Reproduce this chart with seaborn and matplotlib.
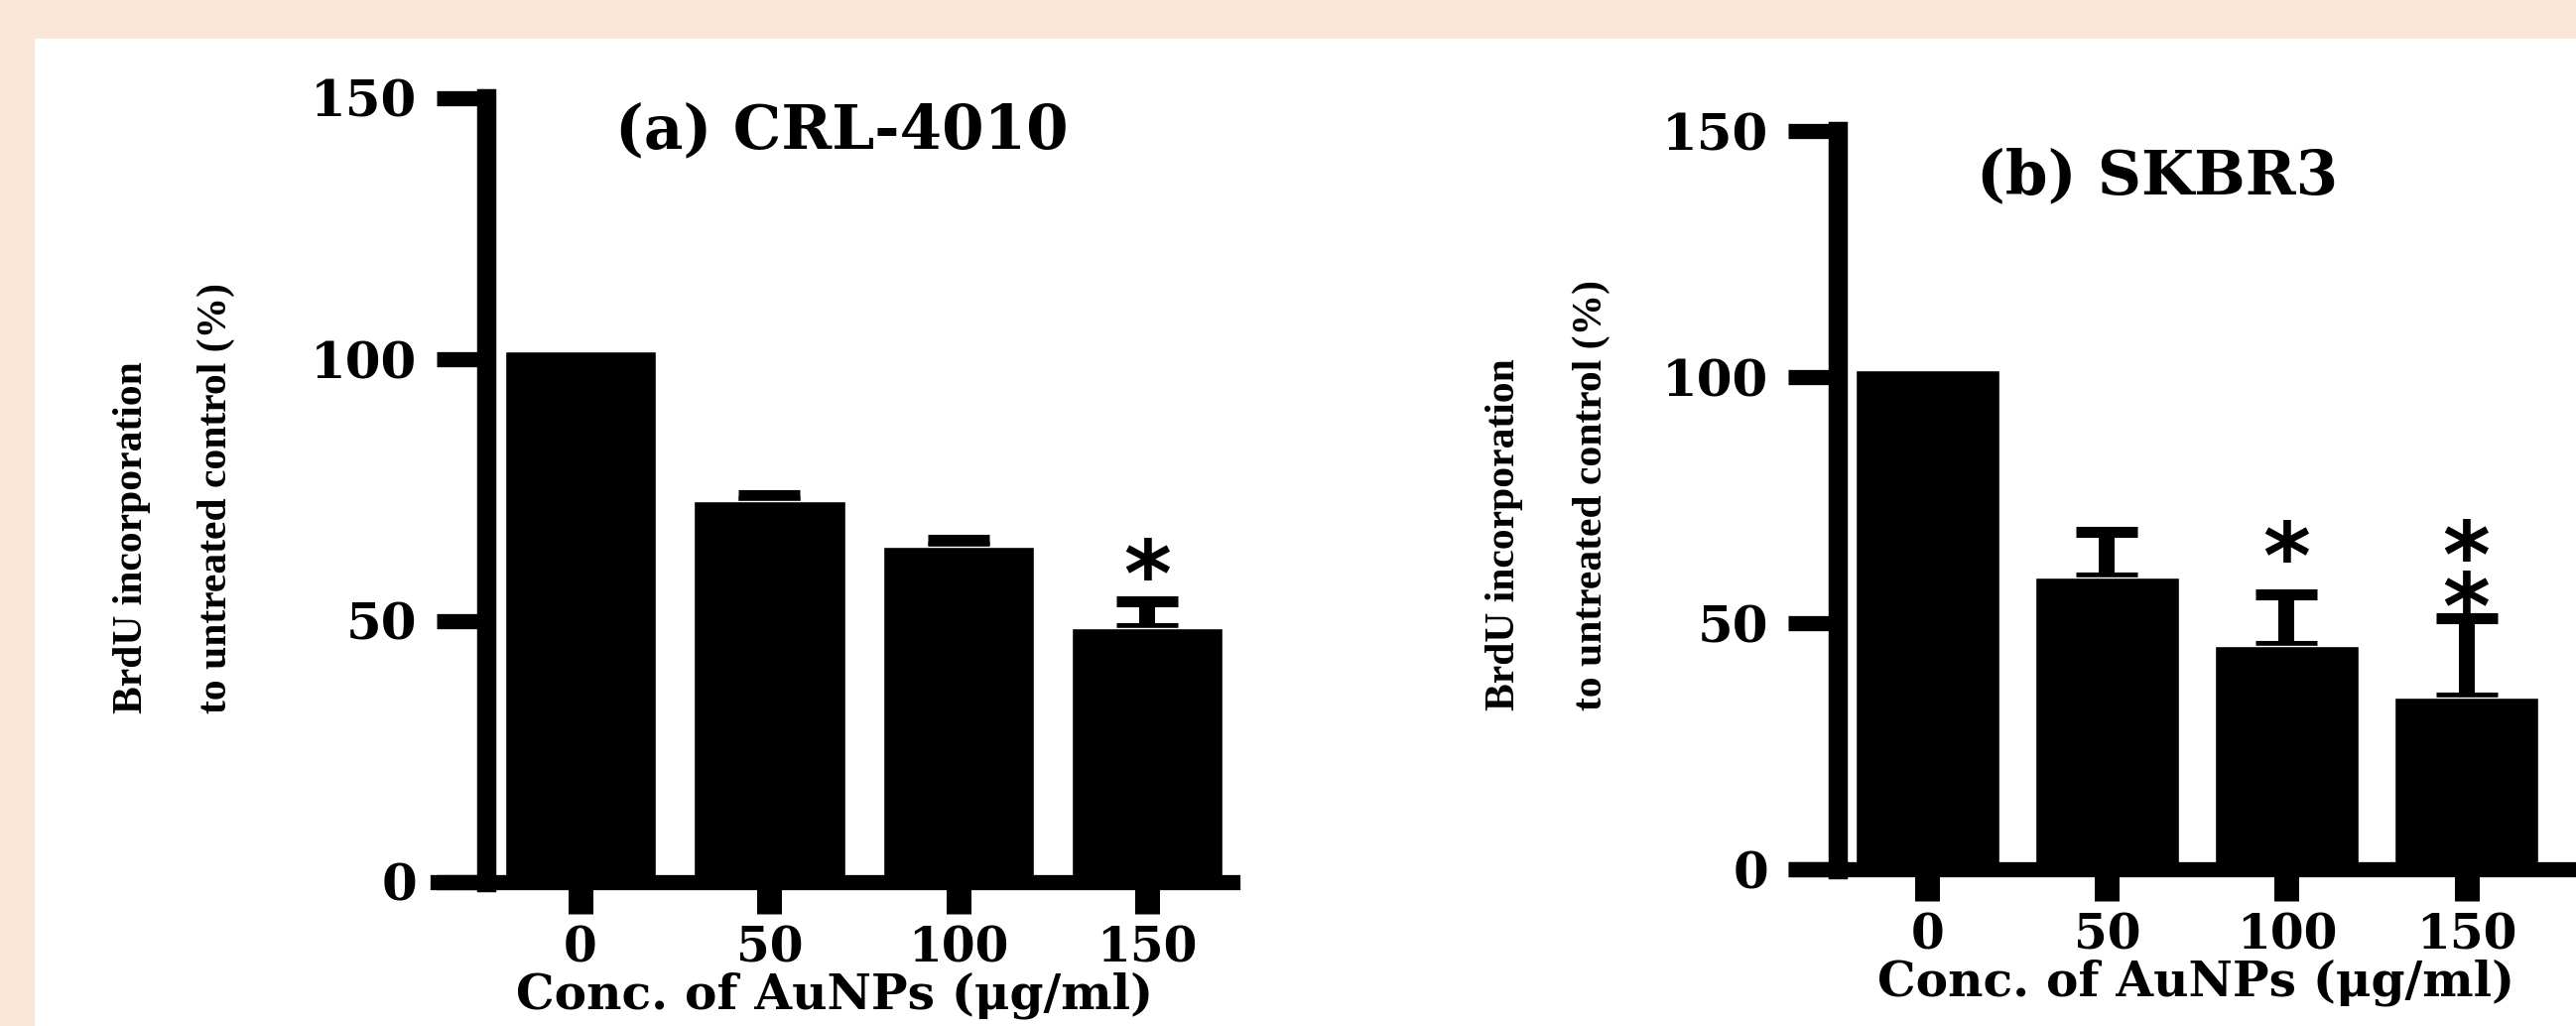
import numpy as np
import pandas as pd
import seaborn as sns
import matplotlib.pyplot as plt
from matplotlib.patches import Rectangle

# ---- data ----
conc = ["0", "50", "100", "150"]
crl_mean = [101.5, 72.9, 64.2, 48.7]
crl_err = [0, 1.2, 1.4, 5.1]
skbr_mean = [101.5, 59.3, 45.4, 34.9]
skbr_err = [0, 9.3, 10.4, 16.2]
# significance marks: (bar index, height of the lowest star in % units, number of stars)
crl_stars = [(3, 63, 1)]
skbr_stars = [(2, 68, 1), (3, 57.7, 2)]
yticks = [0, 50, 100, 150]
ylab_lines = ["BrdU incorporation", "to untreated control (%)"]

W, H = 2596, 1034
PEACH = "#fbe5d6"
STAR_FS = 66

sns.set_style("white")
plt.rcParams["font.family"] = ["DejaVu Serif"]
plt.rcParams["font.weight"] = "bold"
for k in ["axes.edgecolor", "text.color", "axes.labelcolor", "xtick.color", "ytick.color"]:
    plt.rcParams[k] = "black"


def rect_px(x0, y0, x1, y1):
    # pixel box (left, top, right, bottom) -> figure fraction rect
    return [x0 / W, 1 - y1 / H, (x1 - x0) / W, (y1 - y0) / H]


def panel(fig, rect, xlim, means, errs, stars):
    ax = fig.add_axes(rect)
    ax.set_facecolor("none")
    df = pd.DataFrame({"conc": conc, "mean": means})
    sns.barplot(data=df, x="conc", y="mean", color="black", saturation=1,
                width=0.8, errorbar=None, ax=ax, zorder=2)
    idx = [i for i, e in enumerate(errs) if e > 0]
    ax.errorbar(idx, [means[i] for i in idx],
                yerr=[np.zeros(len(idx)), [errs[i] for i in idx]],
                fmt="none", ecolor="black", elinewidth=11.5, capsize=22,
                capthick=8, zorder=1)
    # asterisk glyph centre sits ~0.59 em above the (last line) baseline
    for i, y, n in stars:
        ax.annotate("\n".join(["*"] * n), xy=(i, y), xytext=(0, -0.59 * STAR_FS),
                    textcoords="offset points", ha="center", va="baseline",
                    fontsize=STAR_FS, family="DejaVu Sans", fontweight="bold",
                    linespacing=0.47, zorder=3)

    ax.set_xlim(*xlim)
    ax.set_ylim(0, 150)
    ax.set_yticks(yticks)
    for s in ["top", "right"]:
        ax.spines[s].set_visible(False)
    ax.spines["left"].set_position(("data", -0.5))
    ax.spines["left"].set_linewidth(14)
    ax.spines["bottom"].set_linewidth(11)
    for s in ["left", "bottom"]:
        ax.spines[s].set_capstyle("projecting")
        ax.spines[s].set_zorder(4)
    ax.tick_params(axis="y", direction="out", length=36, width=11, pad=14,
                   labelsize=37, left=True, colors="black")
    ax.tick_params(axis="x", direction="out", length=23, width=18, pad=8,
                   labelsize=35, bottom=True, colors="black")
    ax.set_ylabel("")
    ax.set_xlabel("Conc. of AuNPs (\u03bcg/ml)", fontsize=35,
                  fontweight="bold", labelpad=0)
    return ax


fig = plt.figure(figsize=(W / 100, H / 100), dpi=100, facecolor=PEACH)
fig.add_artist(Rectangle((35 / W, 0), 1 - 35 / W, 1 - 39 / H,
                         transform=fig.transFigure, facecolor="white",
                         edgecolor="none", zorder=0))

panel(fig, rect_px(441, 99, 1242, 889), (-0.756, 3.45), crl_mean, crl_err, crl_stars)
panel(fig, rect_px(1810, 132, 2616, 876), (-0.73, 3.72), skbr_mean, skbr_err, skbr_stars)

# two-line rotated y labels, both lines start at the same height
for xs, y in [((133, 218), 719), ((1516, 1604), 716)]:
    for x, line in zip(xs, ylab_lines):
        fig.text(x / W, 1 - y / H, line, rotation=90, ha="center", va="bottom",
                 fontsize=30, family="Liberation Serif", fontweight="bold")

fig.text(848 / W, 1 - 132 / H, "(a) CRL-4010", ha="center", va="center",
         fontsize=44, fontweight="bold")
fig.text(2174 / W, 1 - 178 / H, "(b) SKBR3", ha="center", va="center",
         fontsize=44, fontweight="bold")

fig.savefig("out.png", dpi=100, facecolor=fig.get_facecolor())
